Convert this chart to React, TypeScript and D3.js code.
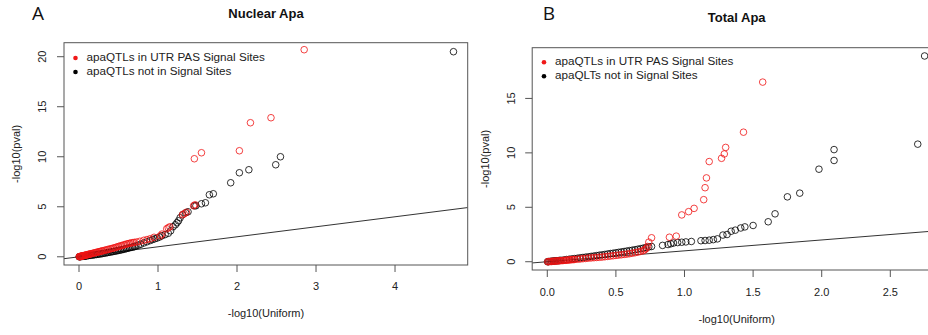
import React from "react";
import * as d3 from "d3";

// ---- Data ----
// Panel A: Nuclear Apa
const nuclearSignalX = [0.003,0.008,0.014,0.02,0.027,0.034,0.041,0.048,0.056,0.064,0.072,0.08,0.09,0.10,0.11,0.12,0.13,0.14,0.15,0.165,0.18,0.195,0.21,0.225,0.24,0.255,0.27,0.285,0.30,0.32,0.34,0.36,0.38,0.40,0.42,0.44,0.46,0.48,0.50,0.52,0.54,0.56,0.58,0.60,0.62,0.64,0.66,0.68,0.70,0.73,0.77,0.82,0.86,0.90,0.95,1.03,1.05,1.11,1.13,1.15,1.31,1.33,1.36,1.45,1.47,1.46,1.55,2.03,2.17,2.43,2.85];
const nuclearSignalY = [0.01,0.02,0.03,0.04,0.05,0.07,0.08,0.10,0.11,0.13,0.14,0.16,0.18,0.20,0.22,0.24,0.26,0.28,0.30,0.33,0.36,0.39,0.42,0.45,0.48,0.51,0.54,0.57,0.60,0.64,0.68,0.72,0.76,0.80,0.84,0.88,0.93,0.98,1.03,1.08,1.12,1.17,1.22,1.27,1.31,1.35,1.38,1.41,1.44,1.48,1.55,1.65,1.72,1.80,1.95,2.10,2.27,2.80,2.90,3.00,4.20,4.30,4.45,5.10,5.20,9.80,10.40,10.60,13.40,13.90,20.70];
const nuclearOtherX = [0.002,0.01,0.02,0.03,0.04,0.05,0.06,0.07,0.08,0.09,0.10,0.12,0.14,0.16,0.18,0.20,0.22,0.24,0.26,0.28,0.30,0.32,0.34,0.36,0.38,0.40,0.42,0.44,0.46,0.48,0.50,0.52,0.54,0.56,0.58,0.60,0.62,0.64,0.66,0.68,0.70,0.72,0.75,0.78,0.82,0.86,0.90,0.93,0.96,0.99,1.02,1.05,1.09,1.13,1.16,1.19,1.22,1.24,1.26,1.28,1.31,1.35,1.38,1.46,1.48,1.55,1.60,1.65,1.70,1.92,2.03,2.15,2.49,2.55,4.74];
const nuclearOtherY = [0.00,0.01,0.02,0.03,0.04,0.05,0.06,0.07,0.08,0.09,0.10,0.12,0.14,0.16,0.18,0.21,0.23,0.25,0.28,0.30,0.33,0.36,0.39,0.42,0.45,0.48,0.51,0.54,0.57,0.60,0.64,0.67,0.70,0.74,0.78,0.82,0.86,0.90,0.94,0.98,1.02,1.08,1.15,1.25,1.38,1.50,1.62,1.72,1.80,1.88,1.98,2.10,2.22,2.35,2.60,3.00,3.20,3.40,3.60,3.90,4.20,4.40,4.50,5.10,5.10,5.30,5.40,6.20,6.30,7.40,8.40,8.70,9.20,10.00,20.50];

// Panel B: Total Apa
const totalSignalX = [0.003,0.01,0.02,0.03,0.04,0.05,0.06,0.07,0.08,0.09,0.10,0.11,0.12,0.13,0.14,0.15,0.16,0.17,0.18,0.19,0.20,0.22,0.24,0.26,0.28,0.30,0.32,0.34,0.36,0.38,0.40,0.42,0.44,0.46,0.48,0.50,0.52,0.54,0.56,0.58,0.60,0.62,0.64,0.66,0.68,0.70,0.71,0.72,0.73,0.74,0.76,0.89,0.94,0.98,1.03,1.07,1.14,1.15,1.16,1.18,1.27,1.29,1.30,1.43,1.57];
const totalSignalY = [0.00,0.01,0.02,0.03,0.04,0.05,0.06,0.07,0.08,0.09,0.10,0.11,0.12,0.13,0.14,0.15,0.17,0.18,0.19,0.20,0.21,0.23,0.25,0.28,0.30,0.33,0.35,0.37,0.39,0.41,0.43,0.46,0.49,0.52,0.55,0.58,0.61,0.64,0.67,0.70,0.74,0.78,0.83,0.88,0.95,1.02,1.10,1.20,1.40,1.80,2.20,2.25,2.35,4.30,4.60,4.90,5.70,6.80,7.70,9.20,9.50,9.90,10.50,11.90,16.50];
const totalOtherX = [0.002,0.01,0.02,0.03,0.04,0.05,0.06,0.07,0.08,0.09,0.10,0.12,0.14,0.16,0.18,0.20,0.22,0.24,0.26,0.28,0.30,0.32,0.34,0.36,0.38,0.40,0.42,0.44,0.46,0.48,0.50,0.52,0.54,0.56,0.58,0.60,0.62,0.64,0.66,0.68,0.70,0.72,0.74,0.76,0.84,0.88,0.90,0.92,0.95,0.98,1.01,1.05,1.12,1.15,1.18,1.21,1.24,1.28,1.31,1.34,1.37,1.41,1.44,1.50,1.61,1.66,1.75,1.84,1.98,2.09,2.09,2.70,2.75];
const totalOtherY = [0.00,0.01,0.03,0.04,0.05,0.07,0.08,0.09,0.10,0.12,0.13,0.16,0.20,0.23,0.26,0.29,0.32,0.36,0.39,0.42,0.45,0.49,0.52,0.56,0.60,0.63,0.67,0.71,0.75,0.78,0.82,0.86,0.90,0.94,0.98,1.02,1.06,1.10,1.15,1.20,1.25,1.31,1.36,1.40,1.50,1.58,1.65,1.72,1.76,1.79,1.82,1.86,1.93,1.95,1.98,2.03,2.10,2.45,2.50,2.80,2.90,3.10,3.20,3.33,3.67,4.40,5.96,6.30,8.50,9.30,10.30,10.80,18.90];

const nuclearXTicks = [0, 1, 2, 3, 4];
const nuclearYTicks = [0, 5, 10, 15, 20];
const totalXTicks = [0, 0.5, 1, 1.5, 2, 2.5];
const totalYTicks = [0, 5, 10, 15];

const nuclearLegend = ["apaQTLs in UTR PAS Signal Sites", "apaQTLs not in Signal Sites"];
const totalLegend = ["apaQTLs in UTR PAS Signal Sites", "apaQLTs not in Signal Sites"];

const RED = "rgba(240,20,20,0.8)";
const BLACK = "rgba(0,0,0,0.8)";
const FONT = "'Liberation Sans', Arial, Helvetica, sans-serif";

type PanelProps = {
  id: string;
  letter: string;
  letterX: number;
  letterY: number;
  title: string;
  titleX: number;
  titleY: number;
  xDomain: [number, number];
  yDomain: [number, number];
  box: { left: number; right: number; top: number; bottom: number };
  xTicks: number[];
  yTicks: number[];
  xFmt: (v: number) => string;
  redX: number[];
  redY: number[];
  blackX: number[];
  blackY: number[];
  legend: string[];
  legendX: number;
  legendY: number;
  xTitleX: number;
  xTitleY: number;
  yTitleX: number;
  xTickLabelY: number;
  yTickLabelX: number;
};

function Panel(p: PanelProps) {
  const x = d3.scaleLinear().domain(p.xDomain).range([p.box.left, p.box.right]);
  const y = d3.scaleLinear().domain(p.yDomain).range([p.box.bottom, p.box.top]);
  const cy = (p.box.top + p.box.bottom) / 2;
  const lineFrom = Math.max(p.xDomain[0], p.yDomain[0]);
  const lineTo = Math.min(p.xDomain[1], p.yDomain[1]);
  const black = p.blackX.map((v, i) => [v, p.blackY[i]]);
  const red = p.redX.map((v, i) => [v, p.redY[i]]);
  const r = 3.3;
  return (
    <g>
      <defs>
        <clipPath id={"clip-" + p.id}>
          <rect x={p.box.left} y={p.box.top} width={p.box.right - p.box.left} height={p.box.bottom - p.box.top} />
        </clipPath>
      </defs>
      <text x={p.letterX} y={p.letterY} fontFamily="'Open Sans', 'DejaVu Sans', sans-serif" fontSize={19} fill="#111" dominantBaseline="middle" textAnchor="middle">{p.letter}</text>
      <text x={p.titleX} y={p.titleY} fontFamily={FONT} fontWeight="bold" fontSize={13} textAnchor="middle" dominantBaseline="middle" fill="#111">{p.title}</text>
      <line clipPath={`url(#clip-${p.id})`} x1={x(lineFrom)} y1={y(lineFrom)} x2={x(lineTo)} y2={y(lineTo)} stroke="#333" strokeWidth={1} />
      {black.map((d, i) => (
        <circle key={"b" + i} cx={x(d[0])} cy={y(d[1])} r={r} fill="none" stroke={BLACK} strokeWidth={1} />
      ))}
      {red.map((d, i) => (
        <circle key={"r" + i} cx={x(d[0])} cy={y(d[1])} r={r} fill="none" stroke={RED} strokeWidth={1} />
      ))}
      <rect x={p.box.left} y={p.box.top} width={p.box.right - p.box.left} height={p.box.bottom - p.box.top} fill="none" stroke="#555" strokeWidth={1} />
      {p.xTicks.map((t) => (
        <g key={"xt" + t}>
          <line x1={x(t)} x2={x(t)} y1={p.box.bottom} y2={p.box.bottom + 7} stroke="#555" />
          <text x={x(t)} y={p.xTickLabelY} fontFamily={FONT} fontSize={11} textAnchor="middle" dominantBaseline="middle" fill="#222">{p.xFmt(t)}</text>
        </g>
      ))}
      {p.yTicks.map((t) => (
        <g key={"yt" + t}>
          <line x1={p.box.left - 7} x2={p.box.left} y1={y(t)} y2={y(t)} stroke="#555" />
          <text transform={`translate(${p.yTickLabelX},${y(t)}) rotate(-90)`} fontFamily={FONT} fontSize={11} textAnchor="middle" dominantBaseline="middle" fill="#222">{String(t)}</text>
        </g>
      ))}
      <text x={p.xTitleX} y={p.xTitleY} fontFamily={FONT} fontSize={11} textAnchor="middle" dominantBaseline="middle" fill="#222">-log10(Uniform)</text>
      <text transform={`translate(${p.yTitleX},${cy}) rotate(-90)`} fontFamily={FONT} fontSize={11} textAnchor="middle" dominantBaseline="middle" fill="#222">-log10(pval)</text>
      {p.legend.map((s, i) => (
        <g key={"lg" + i}>
          <circle cx={p.legendX} cy={p.legendY + i * 14} r={2.3} fill={i === 0 ? "#f01818" : "#000"} />
          <text x={p.legendX + 11} y={p.legendY + i * 14} fontFamily={FONT} fontSize={11.7} dominantBaseline="middle" fill="#222">{s}</text>
        </g>
      ))}
    </g>
  );
}

export default function App() {
  return (
    <svg width={928} height={335} style={{ position: "absolute", left: 0, top: 0, background: "#fff" }}>
      <rect x={0} y={0} width={928} height={335} fill="#fff" />
      <Panel
        id="a"
        letter="A"
        letterX={38}
        letterY={15}
        title="Nuclear Apa"
        titleX={266}
        titleY={15}
        xDomain={[-0.19, 4.92]}
        yDomain={[-0.82, 21.4]}
        box={{ left: 64, right: 467.7, top: 42.7, bottom: 265 }}
        xTicks={nuclearXTicks}
        yTicks={nuclearYTicks}
        xFmt={(v) => String(v)}
        redX={nuclearSignalX}
        redY={nuclearSignalY}
        blackX={nuclearOtherX}
        blackY={nuclearOtherY}
        legend={nuclearLegend}
        legendX={75.5}
        legendY={58}
        xTitleX={266}
        xTitleY={314}
        yTitleX={17}
        xTickLabelY={287}
        yTickLabelX={43.5}
      />
      <Panel
        id="b"
        letter="B"
        letterX={549}
        letterY={15}
        title="Total Apa"
        titleX={736.7}
        titleY={19}
        xDomain={[-0.11, 2.86]}
        yDomain={[-0.76, 19.66]}
        box={{ left: 532.2, right: 939.7, top: 47.7, bottom: 270 }}
        xTicks={totalXTicks}
        yTicks={totalYTicks}
        xFmt={(v) => d3.format(".1f")(v)}
        redX={totalSignalX}
        redY={totalSignalY}
        blackX={totalOtherX}
        blackY={totalOtherY}
        legend={totalLegend}
        legendX={544}
        legendY={62.3}
        xTitleX={736.7}
        xTitleY={320}
        yTitleX={485.7}
        xTickLabelY={292.7}
        yTickLabelX={512.3}
      />
    </svg>
  );
}
